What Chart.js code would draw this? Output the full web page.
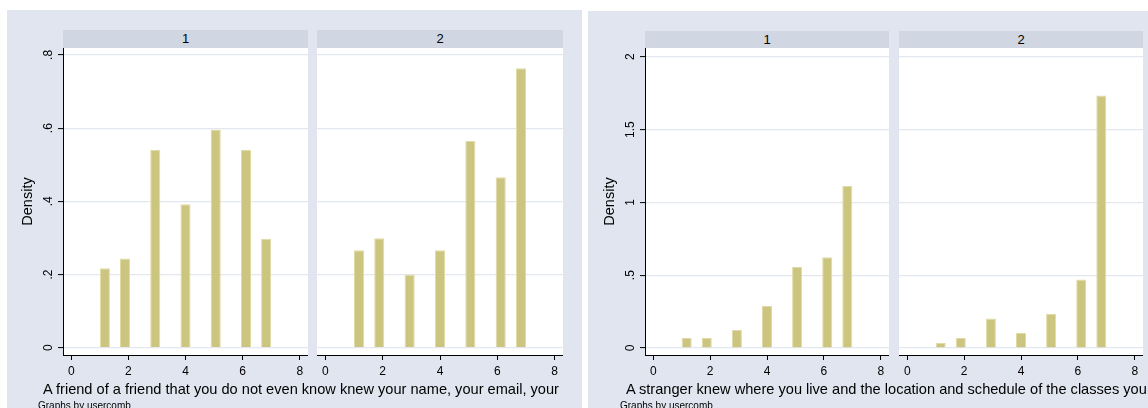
<!DOCTYPE html>
<html>
<head>
<meta charset="utf-8">
<script src="https://cdn.jsdelivr.net/npm/chart.js@4/dist/chart.umd.min.js"></script>
<style>
  html, body { margin: 0; padding: 0; background: #fff; width: 1148px; height: 408px; overflow: hidden;
               font-family: "Liberation Sans", Arial, sans-serif; }
  .graph { position: absolute; background: #e1e5ef; }
  .strip { position: absolute; background: #d0d7e2; color: #000; font-size: 13px; text-align: center; }
  .caption { position: absolute; font-size: 14.6px; line-height: 16px; color: #000; white-space: nowrap; }
  .note { position: absolute; font-size: 10px; line-height: 13px; color: #000; white-space: nowrap; }
  canvas { position: absolute; }
</style>
</head>
<body>
<script>
// Survey responses (1-7 scale) and the histogram binning used for the bars
const responses = [1, 2, 3, 4, 5, 6, 7];
const binStart = 1;
const binEnd = 7;
const binCount = 17;

// Density of each response, by usercomb group
const friendGroup1 = [0.217, 0.244, 0.541, 0.392, 0.596, 0.541, 0.298];
const friendGroup2 = [0.266, 0.299, 0.199, 0.266, 0.565, 0.466, 0.764];
const strangerGroup1 = [0.068, 0.068, 0.123, 0.288, 0.557, 0.623, 1.112];
const strangerGroup2 = [0.034, 0.068, 0.203, 0.103, 0.235, 0.470, 1.733];

// Axis ticks and labels
const xTicks = [0, 2, 4, 6, 8];
const friendYTicks = [0, 0.2, 0.4, 0.6, 0.8];
const friendYLabels = ['0', '.2', '.4', '.6', '.8'];
const strangerYTicks = [0, 0.5, 1, 1.5, 2];
const strangerYLabels = ['0', '.5', '1', '1.5', '2'];
const groupLabels = ['1', '2'];
const yTitle = 'Density';
const friendCaption = 'A friend of a friend that you do not even know knew your name, your email, your';
const strangerCaption = 'A stranger knew where you live and the location and schedule of the classes you';
const byNote = 'Graphs by usercomb';

// ---- styling ----
const FONT = '"Liberation Sans", Arial, sans-serif';
const BAR_FILL = '#ccc57f';
const BAR_EDGE = '#e0dba6';
const GRID = '#e3e7ef';
const TICK_SIZE = 12;
const TITLE_SIZE = 14.5;
const X_MIN = -0.29, X_MAX = 8.29;
const PLOT_TOP = 48, PLOT_BOTTOM = 355, X_AXIS_H = 30;

const binWidth = (binEnd - binStart) / binCount;
function binCenter(v) {
  const idx = Math.min(Math.floor((v - binStart) / binWidth + 1e-9), binCount - 1);
  return binStart + (idx + 0.5) * binWidth;
}

// white plot region
const plotBg = {
  id: 'plotBg',
  beforeDraw(chart) {
    const { ctx, chartArea: a } = chart;
    ctx.save();
    ctx.fillStyle = '#fff';
    ctx.fillRect(a.left, a.top, a.right - a.left, a.bottom - a.top);
    ctx.restore();
  }
};

// vertical (rotated) y tick labels
const yTickText = {
  id: 'yTickText',
  afterDraw(chart, args, opts) {
    if (!opts || !opts.labels) return;
    const s = chart.scales.y;
    const ctx = chart.ctx;
    ctx.save();
    ctx.font = TICK_SIZE + 'px ' + FONT;
    ctx.fillStyle = '#000';
    ctx.textAlign = 'center';
    ctx.textBaseline = 'middle';
    opts.values.forEach((v, i) => {
      ctx.save();
      ctx.translate(chart.chartArea.left - opts.gap, s.getPixelForValue(v));
      ctx.rotate(-Math.PI / 2);
      ctx.fillText(opts.labels[i], 0, 0);
      ctx.restore();
    });
    ctx.restore();
  }
};

function addDiv(cls, x, y, w, h, text) {
  const d = document.createElement('div');
  d.className = cls;
  d.style.left = x + 'px';
  d.style.top = y + 'px';
  if (w != null) d.style.width = w + 'px';
  if (h != null) { d.style.height = h + 'px'; d.style.lineHeight = h + 'px'; }
  if (text != null) d.textContent = text;
  document.body.appendChild(d);
  return d;
}

function makePanel(p) {
  const canvas = document.createElement('canvas');
  const left = p.x - p.axisWidth;
  canvas.width = p.w + p.axisWidth;
  canvas.height = PLOT_BOTTOM - PLOT_TOP + X_AXIS_H;
  canvas.style.left = left + 'px';
  canvas.style.top = PLOT_TOP + 'px';
  document.body.appendChild(canvas);

  const points = responses.map((r, i) => ({ x: binCenter(r), y: p.values[i] }));
  const showAxis = p.axisWidth > 0;

  new Chart(canvas, {
    type: 'bar',
    data: {
      datasets: [{
        data: points,
        backgroundColor: BAR_FILL,
        borderColor: BAR_EDGE,
        borderWidth: 1,
        categoryPercentage: 0.5,
        barPercentage: 1
      }]
    },
    options: {
      responsive: false,
      animation: false,
      devicePixelRatio: 1,
      layout: { padding: 0 },
      events: [],
      plugins: {
        legend: { display: false },
        tooltip: { enabled: false },
        yTickText: showAxis ? { values: p.yTicks, labels: p.yLabels, gap: 14 } : {}
      },
      scales: {
        x: {
          type: 'linear',
          min: X_MIN,
          max: X_MAX,
          offset: false,
          afterBuildTicks: s => { s.ticks = xTicks.map(v => ({ value: v })); },
          afterFit: s => { s.height = X_AXIS_H; },
          grid: { display: true, offset: false, drawOnChartArea: false, drawTicks: true,
                  tickLength: 5, tickColor: '#000', tickWidth: 1 },
          border: { display: true, color: '#000', width: 1 },
          ticks: { color: '#000', font: { family: FONT, size: TICK_SIZE }, padding: 4,
                   maxRotation: 0, minRotation: 0, callback: v => String(v) }
        },
        y: {
          type: 'linear',
          min: p.yMin,
          max: p.yMax,
          afterBuildTicks: s => { s.ticks = p.yTicks.map(v => ({ value: v })); },
          afterFit: s => { s.width = p.axisWidth; },
          grid: { color: GRID, lineWidth: 1.2, drawTicks: showAxis, tickLength: 5,
                  tickColor: '#000', tickWidth: 1 },
          border: { display: showAxis, color: '#000', width: 1 },
          ticks: { display: false },
          title: { display: showAxis, text: yTitle, color: '#000',
                   font: { family: FONT, size: TITLE_SIZE },
                   padding: { top: p.axisWidth - 35 - TITLE_SIZE * 0.6, bottom: 0 } }
        }
      }
    },
    plugins: [plotBg, yTickText]
  });
}

function makeGraph(g) {
  addDiv('graph', g.bg.x, g.bg.y, g.bg.w, g.bg.h);
  g.panels.forEach((panel, i) => {
    addDiv('strip', panel.x, g.stripTop, panel.w, PLOT_TOP - g.stripTop, groupLabels[i]);
  });
  g.panels.forEach((panel, i) => {
    makePanel({
      x: panel.x, w: panel.w,
      axisWidth: i === 0 ? g.axisWidth : 0,
      values: g.series[i],
      yMin: g.yMin, yMax: g.yMax,
      yTicks: g.yTicks, yLabels: g.yLabels
    });
  });
  addDiv('caption', g.captionX, 381, null, null, g.caption);
  addDiv('note', g.noteX, 399, null, null, byNote);
}

makeGraph({
  bg: { x: 7, y: 10, w: 575, h: 398 },
  stripTop: 30,
  axisWidth: 56,
  panels: [{ x: 63, w: 245 }, { x: 317, w: 246 }],
  series: [friendGroup1, friendGroup2],
  yMin: -0.020, yMax: 0.819,
  yTicks: friendYTicks, yLabels: friendYLabels,
  caption: friendCaption, captionX: 43, noteX: 38
});

makeGraph({
  bg: { x: 588, y: 11, w: 560, h: 397 },
  stripTop: 31,
  axisWidth: 57,
  panels: [{ x: 645, w: 244 }, { x: 899, w: 244 }],
  series: [strangerGroup1, strangerGroup2],
  yMin: -0.048, yMax: 2.06,
  yTicks: strangerYTicks, yLabels: strangerYLabels,
  caption: strangerCaption, captionX: 626, noteX: 620
});
</script>
</body>
</html>
